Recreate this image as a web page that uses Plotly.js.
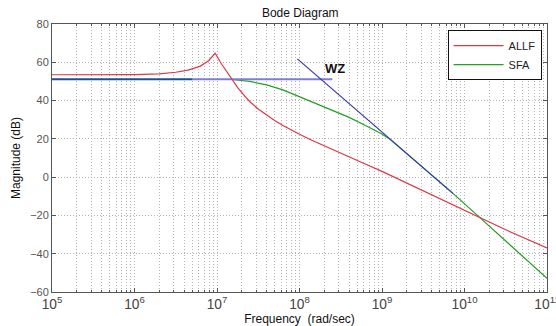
<!DOCTYPE html>
<html>
<head>
<meta charset="utf-8">
<script src="https://cdn.plot.ly/plotly-3.0.1.min.js"></script>
<style>html,body{margin:0;padding:0;background:#fff;}#chart{width:556px;height:326px;}</style>
</head>
<body>
<div id="chart"></div>
<script>
// ALLF (red)
const allfFreq = [1e5, 3.16e5, 1e6, 2.0e6, 3.16e6, 4.47e6, 6.3e6, 7.9e6, 9.5e6, 1.12e7, 1.32e7, 1.51e7, 1.78e7, 2.0e7, 2.24e7, 2.5e7, 3.16e7, 4.0e7, 5.0e7, 6.3e7, 7.9e7, 1e8, 1.41e8, 2.0e8, 3.16e8, 5.6e8, 1e9, 3.16e9, 1e10, 3.16e10, 1e11];
const allfMag  = [53.5, 53.5, 53.6, 53.9, 54.8, 55.9, 58.0, 60.8, 64.7, 59.5, 55.0, 51.0, 46.8, 44.2, 41.7, 39.4, 35.6, 32.4, 29.6, 27.0, 24.6, 22.4, 19.3, 16.3, 12.6, 7.8, 3.0, -7.3, -17.5, -27.5, -37.0];
// SFA (green)
const sfaFreq = [1e5, 1e7, 1.51e7, 2.5e7, 4.0e7, 6.3e7, 1e8, 1.58e8, 2.5e8, 4.0e8, 6.3e8, 1e9, 1.26e9, 3.16e9, 7.24e9, 1.55e10, 4.0e10, 1e11];
const sfaMag  = [51, 51, 51, 50.0, 48.2, 45.6, 42.0, 38.6, 35.0, 31.2, 27.0, 22.5, 19.6, 4.9, -8.5, -21.3, -37.2, -52.9];
// WZ asymptotes (blue)
const flatFreqA = [1e5, 5e6];
const flatMagA  = [51.1, 51.1];
const flatFreqB = [5e6, 2.5e8];
const flatMagB  = [51.1, 51.1];
const slopeFreq = [9.42e7, 7.24e9];
const slopeMag  = [61.8, -8.5];
// labels
const titleText = 'Bode Diagram';
const xTitle = 'Frequency&nbsp;&nbsp;(rad/sec)';
const yTitle = 'Magnitude (dB)';
const wzLabel = 'WZ';
const wzPos = [2.7e8, 56.5];

const traces = [
  {x: sfaFreq, y: sfaMag, name: 'SFA', mode: 'lines', line: {color: '#22a022', width: 1.2}, showlegend: false},
  {x: flatFreqA, y: flatMagA, mode: 'lines', line: {color: '#1f4f8f', width: 2}, showlegend: false, hoverinfo: 'skip'},
  {x: flatFreqB, y: flatMagB, mode: 'lines', line: {color: '#7f7fd2', width: 2}, showlegend: false, hoverinfo: 'skip'},
  {x: slopeFreq, y: slopeMag, mode: 'lines', line: {color: '#3535b0', width: 1.2}, showlegend: false, hoverinfo: 'skip'},
  {x: allfFreq, y: allfMag, name: 'ALLF', mode: 'lines', line: {color: '#d83a4a', width: 1.2}},
  {x: [null], y: [null], name: 'SFA', mode: 'lines', line: {color: '#22a022', width: 1.2}}
];

const gridCol = '#b4b4b4';
const gridDash = '1px,2px';
const layout = {
  width: 556, height: 326,
  margin: {l: 52, r: 9, t: 24, b: 34},
  paper_bgcolor: '#fff', plot_bgcolor: '#fff',
  font: {family: 'Liberation Sans, Arial, sans-serif', size: 10, color: '#333'},
  title: {text: titleText, x: 0.54, xanchor: 'center', y: 0.975, yanchor: 'top', font: {size: 12, color: '#111'}},
  xaxis: {
    type: 'log', range: [5, 11], dtick: 1, exponentformat: 'power',
    showline: true, linecolor: '#555', linewidth: 1, mirror: 'allticks',
    ticks: 'inside', ticklen: 4, tickcolor: '#555',
    showgrid: true, gridcolor: gridCol, griddash: gridDash, gridwidth: 1,
    minor: {dtick: 'D1', showgrid: true, gridcolor: gridCol, griddash: gridDash, gridwidth: 1, ticks: 'inside', ticklen: 2, tickcolor: '#555'},
    zeroline: false, ticklabeloverflow: 'allow',
    tickfont: {size: 11, color: '#444'},
    title: {text: xTitle, font: {size: 12, color: '#111'}, standoff: 1}
  },
  yaxis: {
    range: [-60, 80], dtick: 20,
    showline: true, linecolor: '#555', linewidth: 1, mirror: 'allticks',
    ticks: 'inside', ticklen: 4, tickcolor: '#555',
    showgrid: true, gridcolor: gridCol, griddash: gridDash, gridwidth: 1,
    zeroline: false,
    tickfont: {size: 11, color: '#555'},
    title: {text: yTitle, font: {size: 12, color: '#111'}, standoff: 6}
  },
  legend: {
    x: 0.989, xanchor: 'right', y: 0.977, yanchor: 'top',
    bgcolor: '#fff', bordercolor: '#111', borderwidth: 1,
    font: {size: 11, color: '#222'}, itemwidth: 50, tracegroupgap: 0
  },
  annotations: [{
    x: Math.log10(wzPos[0]), y: wzPos[1], xref: 'x', yref: 'y', text: '<b>' + wzLabel + '</b>',
    showarrow: false, font: {size: 13, color: '#111', family: 'Liberation Sans, Arial, sans-serif'}
  }],
  showlegend: true
};

Plotly.newPlot('chart', traces, layout, {displayModeBar: false, staticPlot: true});
</script>
</body>
</html>
